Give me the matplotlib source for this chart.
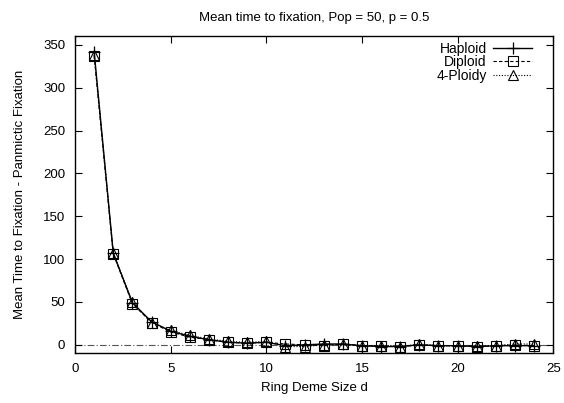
import matplotlib
matplotlib.use('Agg')
import matplotlib.pyplot as plt

plt.rcParams['font.family'] = ['Liberation Sans', 'DejaVu Sans']

deme_size = list(range(1, 25))
haploid = [342, 107, 49, 27, 16, 10, 6, 3, 2, 3, -1, 0, 1, 1, -1, -2, -2, 0, -1, -1, -2, -1, -1, -1]
diploid = [337, 106, 48, 26, 15, 9, 6, 3, 2, 3, 1, 0, -1, 1, -1, -1, -2, 0, -1, -1, -2, -1, 0, -1]
ploidy4 = [338, 107, 50, 26, 17, 11, 7, 4, 3, 4, -2, -2, 0, 1, -1, -1, -2, 1, -1, -1, -1, -1, 1, 1]

xticks = [0, 5, 10, 15, 20, 25]
yticks = [0, 50, 100, 150, 200, 250, 300, 350]

fig = plt.figure(figsize=(5.64, 4.03), dpi=100)
ax = fig.add_axes([0.133, 0.123, 0.848, 0.787])

# zero reference line
ax.axhline(0, color='#555555', lw=0.8, ls=(0, (6, 2, 1, 2)), zorder=1)

ax.plot(deme_size, haploid, color='black', lw=1.0, ls='-',
        marker='+', ms=8, mew=0.9, label='Haploid', zorder=3)
ax.plot(deme_size, diploid, color='black', lw=0.8, ls=(0, (3, 2)),
        marker='s', ms=7, mew=0.8, mfc='none', label='Diploid', zorder=3)
ax.plot(deme_size, ploidy4, color='black', lw=0.8, ls=(0, (1, 1.5)),
        marker='^', ms=6.5, mew=0.8, mfc='none', label='4-Ploidy', zorder=3)

ax.set_xlim(0, 25)
ax.set_ylim(-10, 360)
ax.set_xticks(xticks)
ax.set_yticks(yticks)
ax.tick_params(direction='in', top=True, right=True, length=5, width=0.8,
               labelsize=9.5, pad=7)
for s in ax.spines.values():
    s.set_linewidth(1.0)

ax.set_title('Mean time to fixation, Pop = 50, p = 0.5', fontsize=9.5, pad=11)
ax.set_xlabel('Ring Deme Size d', fontsize=9.5, labelpad=5)
ax.set_ylabel('Mean Time to Fixation - Panmictic Fixation', fontsize=9.5, labelpad=12)

leg = ax.legend(loc='upper right', bbox_to_anchor=(0.965, 0.995), frameon=False,
                fontsize=10, markerfirst=False, handlelength=2.8, handletextpad=0.5,
                labelspacing=-0.05, borderpad=0.1, borderaxespad=0.2)
for t in leg.get_texts():
    t.set_ha('right')

fig.savefig('out.png', dpi=100)
